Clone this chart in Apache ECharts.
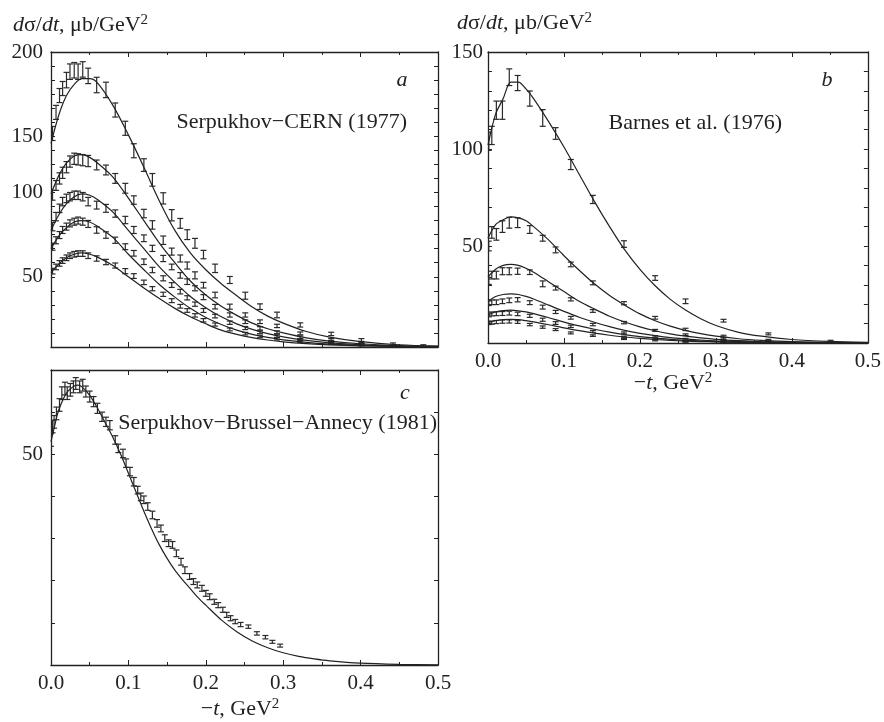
<!DOCTYPE html>
<html><head><meta charset="utf-8">
<script src="https://cdn.jsdelivr.net/npm/echarts@6/dist/echarts.min.js"></script>
<style>html,body{margin:0;padding:0;background:#fff}#c{width:884px;height:722px}</style>
</head><body><div id="c"></div>
<script>
// ---------- Panel a : Serpukhov-CERN (1977) ----------
const tA = [0.002,0.0065,0.011,0.015,0.020,0.0245,0.030,0.035,0.041,0.048,0.059,0.071,0.083,0.096,0.107,0.120,0.131,0.145,0.156,0.167,0.176,0.186,0.197,0.212,0.231,0.251,0.270,0.292,0.322,0.362,0.401,0.442,0.481];
const vA1 = [152,167,179,184,190,196,197,196,197.6,193,186.5,183,168.7,155.7,139.7,129.5,119,105.8,93.8,88,80,73.8,65.8,56,47.7,36.5,28.7,22.8,15.7,9.3,5,2.1,0.9];
const eA1 = [5,5,5,5,5.5,5.5,5.5,5.5,5.5,5.5,5.5,5.5,5,5,5,4.5,4.5,4,4,3.5,3.5,3.5,3,3,2.5,2.5,2,2,1.5,1.2,1,0.8,0.7];
const vA2 = [108,115,120,124,128,132,134,133.6,133,132.4,129.6,126,120,113,104.6,95,86.9,76,67.9,63,58,51,44,37,28.7,22.8,18,15,9.7,5.3,2.6];
const eA2 = [3.5,3.5,4,4,4,4,4,4,4,4,3.5,3.5,3.5,3.5,3,3,3,3,2.5,2.5,2.5,2.5,2,2,1.8,1.5,1.3,1.2,1,0.8,0.7];
const vA3 = [85.7,92.8,98.7,103.5,105.8,107,108,108,107,103.5,101,98.7,95,90.4,83.3,77.4,70.2,63,57,51,46.5,41.8,35.5,28.7,22.8,18,13.3,10.5,7,4,2];
const eA3 = [3,3,3,3,3,3,3,3,3,3,2.8,2.8,2.6,2.6,2.5,2.4,2.2,2.2,2,2,2,1.8,1.8,1.6,1.5,1.3,1.2,1,0.9,0.8,0.6];
const vA4 = [71.4,76,79.7,83.3,85.7,88,89.2,90,89.2,87.6,83.3,79.7,76,71.4,66.7,60.7,54.8,48.9,44.1,39.4,35,30.5,26,22,17.3,13.5,10.5,7.8,5.2,3.2,1.7];
const eA4 = [2.5,2.5,2.5,2.5,2.5,2.5,2.5,2.5,2.5,2.5,2.3,2.3,2.2,2.1,2,2,1.9,1.8,1.7,1.6,1.5,1.5,1.4,1.3,1.2,1.1,1,0.9,0.8,0.7,0.6];
const vA5 = [54,57,59.5,61.5,63.5,65,66,66.5,66.5,65,63,60.5,58,54,50.5,46,41.5,37.5,33,29,26,22.5,19,16,12.5,9.5,7.5,5.8,4,2.4,1.3];
const eA5 = [2,2,2,2,2,2,2,2,2,2,1.9,1.9,1.8,1.8,1.7,1.6,1.5,1.5,1.4,1.3,1.3,1.2,1.2,1.1,1,0.9,0.9,0.8,0.7,0.6,0.5];
const tCurve = [0,0.01,0.02,0.03,0.04,0.05,0.06,0.08,0.10,0.12,0.14,0.16,0.18,0.20,0.22,0.24,0.26,0.28,0.30,0.33,0.36,0.40,0.45,0.50];
const cA1 = [145,165,179,187,191,191,188,172,151,128,104,83,67,55,45,36.5,28.5,22,17,11,7,3.8,1.6,0.6];
const cA2 = [109,122,131,136,137,135,131,121,106,90,74,60,47,37,29,22.5,17,13,10,6.5,4.2,2.3,1.0,0.4];
const cA3 = [83,94,102,107,109,108,105,96,83,70,57,46,36,28,21.5,16.5,12.5,9.5,7.2,4.7,3,1.6,0.7,0.3];
const cA4 = [70,79,85,89,90,89,86,78,66,55,44.5,35.5,27.5,21,16,12,9,6.8,5.1,3.3,2.1,1.1,0.5,0.2];
const cA5 = [53,59,63.5,66,67,66,64,58,50,42,34.5,27.5,21.5,16.5,12,9,6.7,5,3.7,2.4,1.5,0.8,0.35,0.1];
const yTickValsA = [50,110,150,210];
const yTickTextA = ['50','100','150','200'];

// ---------- Panel b : Barnes et al. (1976) ----------
const tB = [0.001,0.005,0.011,0.019,0.028,0.039,0.055,0.072,0.089,0.109,0.138,0.179,0.220,0.260,0.310,0.369,0.451];
const vB1 = [104,107,120,120,137,134,126,116,108,92,74,51,33.5,21.5,11.5,4.7,1];
const eB1 = [4.7,4.7,4.7,4.7,4.3,3.9,3.9,4.3,3,2.6,2.1,1.7,1.2,1.2,0.7,0.5,0.4];
const vB2 = [50,57,56,60,62,62,58.5,54,48,40.5,31,20.5,13,7,3.5,1.5];
const eB2 = [2.5,3,3,3,2.8,2.5,2,1.5,1.5,1.2,1,0.8,0.7,0.6,0.5,0.4];
const vB3 = [32,35,35,37,37,37,36.5,30.5,28.3,22.5,16.5,10.5,6.5,4.3,2.2,1];
const eB3 = [1.8,2,2,1.8,1.8,1.6,1.2,1.5,1,0.8,0.7,0.6,0.5,0.4,0.4,0.3];
const vB4 = [20.5,21,21,21.5,22,22.3,20.8,18.5,16,13,9.5,5.2,3.4,2,1,0.5];
const eB4 = [1.2,1.2,1.2,1.2,1.2,1.1,1,1,0.8,0.7,0.6,0.5,0.4,0.4,0.3,0.3];
const vB5 = [14.5,15,15.1,15.2,15.4,15,14,12,10.3,8.6,6,3.1,2.1,1,0.6,0.3];
const eB5 = [1,1,1,1,1,0.9,0.8,0.8,0.7,0.6,0.5,0.4,0.4,0.3,0.3,0.3];
const vB6 = [10.3,10.5,10.8,11,11.1,10.8,9.5,8.2,6.9,5.2,3.8,2.1,1.4,0.7,0.4,0.2];
const eB6 = [0.8,0.8,0.8,0.8,0.8,0.7,0.6,0.6,0.5,0.5,0.4,0.3,0.3,0.3,0.3,0.3];
const cB1 = [102,118,126,134.5,134.5,131,126,114,101,87,73,60,48,38,29.5,22.5,17,12.5,9,5.5,3.5,1.8,0.8,0.3];
const cB2 = [54,61,63.5,65,64.5,63,60,53,45,37.5,30.5,24.5,19.5,15,11.5,8.7,6.5,4.8,3.5,2.2,1.4,0.7,0.3,0.1];
const cB3 = [34,38,40,40.5,40,38.5,36.5,31.5,26.5,21.5,17.5,13.8,10.8,8.3,6.3,4.7,3.5,2.6,1.9,1.2,0.7,0.4,0.2,0.1];
const cB4 = [21.5,24,25,25.3,25,24,22.7,19.5,16.3,13.3,10.7,8.4,6.5,5,3.8,2.8,2.1,1.5,1.1,0.7,0.4,0.2,0.1,0.05];
const cB5 = [14.5,16,16.7,16.9,16.6,16,15.1,13,10.8,8.8,7.1,5.6,4.3,3.3,2.5,1.9,1.4,1,0.75,0.45,0.3,0.15,0.06,0.03];
const cB6 = [10.5,11.6,12.1,12.2,12,11.5,10.9,9.4,7.8,6.4,5.1,4,3.1,2.4,1.8,1.35,1,0.75,0.55,0.33,0.2,0.1,0.05,0.02];

// ---------- Panel c : Serpukhov-Brussel-Annecy (1981) ----------
const tC = [0.000,0.002,0.004,0.007,0.011,0.014,0.018,0.021,0.025,0.029,0.032,0.037,0.041,0.045,0.050,0.055,0.060,0.066,0.071,0.076,0.083,0.087,0.093,0.097,0.102,0.107,0.112,0.116,0.120,0.125,0.131,0.137,0.142,0.147,0.152,0.157,0.162,0.168,0.173,0.179,0.184,0.189,0.195,0.200,0.205,0.211,0.216,0.222,0.227,0.232,0.238,0.245,0.255,0.266,0.277,0.286,0.296];
const vC = [53.4,56.6,57.7,59.7,61.7,64.5,65.6,64.5,65.3,66,66.8,66,66.4,64.9,63.7,62.5,60.9,58.9,57.7,56.9,53.4,51.4,50.2,47.9,45.9,43.5,41.5,39.9,39.2,37.6,35.6,33.6,32.4,30.1,28.9,28.5,26.5,24.5,22.5,21,19.8,19,18.2,17,16.2,15,14.2,13.1,11.9,11.1,10.3,9.6,9.1,7.5,6.6,5.5,4.6];
const eC = [1.5,1.5,1.5,1.5,1.5,1.5,1.5,1.5,1.5,1.4,1.4,1.4,1.4,1.3,1.3,1.2,1.2,1.1,1.1,1.1,1,1,1,1,1,1,0.9,0.9,0.9,0.9,0.9,0.9,0.8,0.8,0.8,0.8,0.8,0.8,0.8,0.7,0.7,0.7,0.7,0.7,0.7,0.6,0.6,0.6,0.6,0.6,0.5,0.5,0.4,0.4,0.4,0.35,0.35];
const tCurveC = [0,0.005,0.01,0.02,0.03,0.035,0.04,0.05,0.06,0.07,0.08,0.09,0.10,0.11,0.12,0.13,0.14,0.15,0.16,0.17,0.18,0.19,0.20,0.22,0.24,0.26,0.28,0.30,0.32,0.34,0.36,0.40,0.45,0.50];
const cC = [53,57,60.5,64.5,66.2,66.4,66,64,61,57.5,54,50,45.5,41,36.5,32.3,28.5,25.3,22.5,20.2,18.1,16,14.2,10.7,7.9,5.7,4.1,2.9,2.05,1.45,1.0,0.45,0.17,0.05];

const xTicksLabel = v => v.toFixed(1);

// ---------- styling ----------
const FONT = 'Liberation Serif';
const INK = '#222';

function xAx(gi, pos, showLabel) {
  return {type:'value', gridIndex:gi, position:pos, min:0, max:0.5, interval:0.1,
    axisLine:{show:true, onZero:false, lineStyle:{color:INK, width:1.3}},
    axisTick:{show:true, inside:true, length:5, lineStyle:{color:INK, width:1}},
    minorTick:{show:true, splitNumber:2, length:3, lineStyle:{color:INK, width:1}},
    splitLine:{show:false}, minorSplitLine:{show:false},
    axisLabel:{show:showLabel, formatter:xTicksLabel, fontFamily:FONT, fontSize:21, color:INK, margin:8}};
}
function yAx(gi, pos, max, fmt, margin) {
  return {type:'value', gridIndex:gi, position:pos, min:0, max:max, interval:10,
    axisLine:{show:true, onZero:false, lineStyle:{color:INK, width:1.3}},
    axisTick:{show:true, inside:true, length:4, lineStyle:{color:INK, width:1}},
    splitLine:{show:false},
    axisLabel:{show:!!fmt, formatter:fmt || (()=>''), fontFamily:FONT, fontSize:21, color:INK, margin:margin||8, showMinLabel:true, showMaxLabel:true}};
}
const fmtA = v => { const i = yTickValsA.indexOf(Math.round(v)); return i >= 0 ? yTickTextA[i] : ''; };
const fmtB = v => (Math.round(v) % 50 === 0 && v > 0) ? String(Math.round(v)) : '';
const fmtC = v => Math.round(v) === 50 ? '50' : '';

function errSeries(g, t, v, e) {
  return {type:'custom', xAxisIndex:2*g, yAxisIndex:2*g, silent:true, clip:true,
    data: v.map((y,i)=>[t[i], y, e[i]]),
    encode:{x:0, y:1},
    renderItem:(params, api) => {
      const x = api.value(0), y = api.value(1), er = api.value(2);
      const p1 = api.coord([x, y + er]), p2 = api.coord([x, y - er]);
      const hw = 3, st = {stroke:'#2a2a2a', lineWidth:1.2};
      return {type:'group', children:[
        {type:'line', shape:{x1:p1[0], y1:p1[1], x2:p2[0], y2:p2[1]}, style:st},
        {type:'line', shape:{x1:p1[0]-hw, y1:p1[1], x2:p1[0]+hw, y2:p1[1]}, style:st},
        {type:'line', shape:{x1:p2[0]-hw, y1:p2[1], x2:p2[0]+hw, y2:p2[1]}, style:st}
      ]};
    }};
}
function curve(g, t, v) {
  return {type:'line', xAxisIndex:2*g, yAxisIndex:2*g, silent:true, showSymbol:false, symbol:'none',
    smooth:0.3, clip:true, data: v.map((y,i)=>[t[i], y]),
    lineStyle:{color:INK, width:1.2}};
}

const series = [
  curve(0,tCurve,cA1), curve(0,tCurve,cA2), curve(0,tCurve,cA3), curve(0,tCurve,cA4), curve(0,tCurve,cA5),
  errSeries(0,tA,vA1,eA1), errSeries(0,tA,vA2,eA2), errSeries(0,tA,vA3,eA3), errSeries(0,tA,vA4,eA4), errSeries(0,tA,vA5,eA5),
  curve(1,tCurve,cB1), curve(1,tCurve,cB2), curve(1,tCurve,cB3), curve(1,tCurve,cB4), curve(1,tCurve,cB5), curve(1,tCurve,cB6),
  errSeries(1,tB,vB1,eB1), errSeries(1,tB,vB2,eB2), errSeries(1,tB,vB3,eB3), errSeries(1,tB,vB4,eB4), errSeries(1,tB,vB5,eB5), errSeries(1,tB,vB6,eB6),
  curve(2,tCurveC,cC), errSeries(2,tC,vC,eC)
];

function txt(x, y, text, size, align, rich, italic) {
  return {type:'text', x:x, y:y, silent:true, style:{text:text, fontFamily:FONT, fontSize:size,
    fontStyle: italic ? 'italic' : 'normal', fill:INK, align:align, verticalAlign:'middle', rich:rich}};
}
const richTitle = {
  i:{fontFamily:FONT, fontSize:22, fontStyle:'italic', fill:INK},
  n:{fontFamily:FONT, fontSize:22, fill:INK},
  s:{fontFamily:FONT, fontSize:15, fill:INK, verticalAlign:'top', padding:[0,0,10,0]}
};
const yTitle = '{i|d}{n|σ/}{i|dt}{n|, μb/GeV}{s|2}';
const xTitle = '{n|−}{i|t}{n|, GeV}{s|2}';

const chart = echarts.init(document.getElementById('c'), null, {renderer:'canvas'});
chart.setOption({
  backgroundColor:'#fff',
  animation:false,
  grid:[
    {left:51, top:52, width:387, height:295},
    {left:488, top:52, width:382, height:291},
    {left:51, top:370, width:387, height:295}
  ],
  xAxis:[
    xAx(0,'bottom',false), xAx(0,'top',false),
    xAx(1,'bottom',true), xAx(1,'top',false),
    xAx(2,'bottom',true), xAx(2,'top',false)
  ],
  yAxis:[
    yAx(0,'left',210,fmtA,8), yAx(0,'right',210,null),
    yAx(1,'left',150,fmtB,5), yAx(1,'right',150,null),
    yAx(2,'left',70,fmtC,8), yAx(2,'right',70,null)
  ],
  series: series,
  graphic:[
    txt(13, 25, yTitle, 22, 'left', richTitle),
    txt(457, 23, yTitle, 22, 'left', richTitle),
    txt(402, 80, 'a', 22, 'center', null, true),
    txt(407, 122, 'Serpukhov−CERN (1977)', 22, 'right'),
    txt(827, 80, 'b', 22, 'center', null, true),
    txt(782, 123, 'Barnes et al. (1976)', 22, 'right'),
    txt(405, 393, 'c', 22, 'center', null, true),
    txt(437, 423, 'Serpukhov−Brussel−Annecy (1981)', 22, 'right'),
    txt(673, 383, xTitle, 22, 'center', richTitle),
    txt(240, 709, xTitle, 22, 'center', richTitle)
  ]
});
</script></body></html>
